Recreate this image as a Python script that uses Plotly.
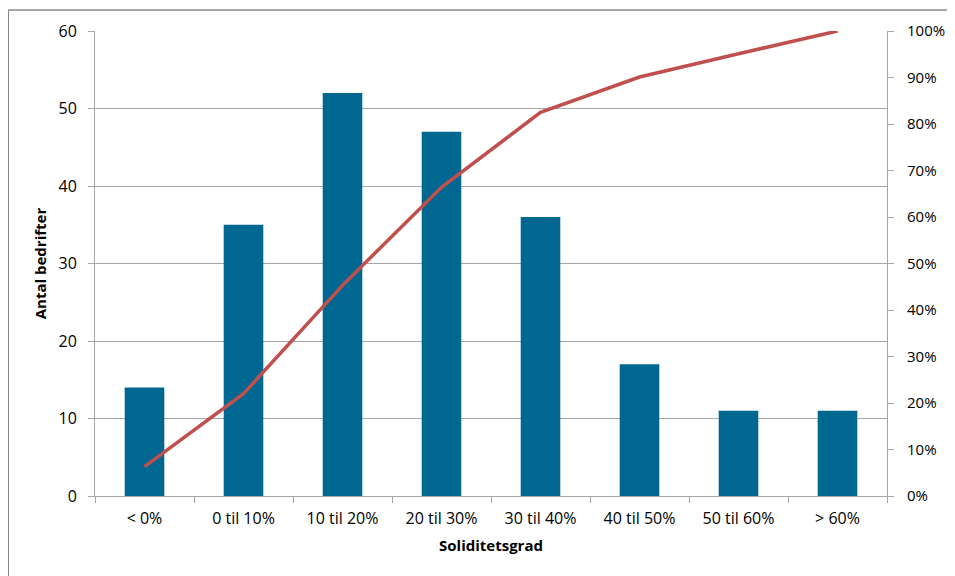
import plotly.graph_objects as go

categories = ["< 0%", "0 til 10%", "10 til 20%", "20 til 30%", "30 til 40%", "40 til 50%", "50 til 60%", "> 60%"]
counts = [14, 35, 52, 47, 36, 17, 11, 11]
cumulative = [0.063, 0.220, 0.453, 0.664, 0.825, 0.901, 0.951, 1.0]

left_ticks = [0, 10, 20, 30, 40, 50, 60]
right_ticks = [0, 0.1, 0.2, 0.3, 0.4, 0.5, 0.6, 0.7, 0.8, 0.9, 1.0]

font_family = "Open Sans, Liberation Sans, sans-serif"
grid = "#A6A6A6"

fig = go.Figure()
fig.add_trace(go.Bar(x=categories, y=counts, marker=dict(color="#006890", line=dict(width=0)),
                     width=0.4, yaxis="y", showlegend=False))
fig.add_trace(go.Scatter(x=categories, y=cumulative, mode="lines", yaxis="y2",
                         line=dict(color="#C0504D", width=3.5), showlegend=False))

fig.update_layout(
    width=947, height=568,
    margin=dict(l=87, r=68, t=23, b=80, autoexpand=False),
    paper_bgcolor="white", plot_bgcolor="white",
    font=dict(family=font_family, size=16, color="black"),
    xaxis=dict(type="category", showgrid=False, showline=True, linecolor=grid, linewidth=1,
               ticks="outside", tickson="boundaries", ticklen=6, tickcolor=grid,
               ticklabelstandoff=8, automargin=False,
               title=dict(text="<b>Soliditetsgrad</b>", font=dict(size=15), standoff=12)),
    yaxis=dict(range=[0, 60], tickvals=left_ticks, showgrid=True, gridcolor=grid, gridwidth=1,
               showline=True, linecolor=grid, ticks="outside", ticklen=6, tickcolor=grid,
               zeroline=False, ticklabelstandoff=8, automargin=False,
               title=dict(text="<b>Antal bedrifter</b>", font=dict(size=15), standoff=8)),
    yaxis2=dict(range=[0, 1], tickvals=right_ticks, tickformat=".0%", overlaying="y", side="right",
                showgrid=False, showline=True, linecolor=grid, ticks="outside", ticklen=6,
                tickcolor=grid, zeroline=False, ticklabelstandoff=10, automargin=False,
                tickfont=dict(size=15)),
)

x_left = -0.1095
y_top = 1.045
fig.add_shape(type="line", xref="paper", yref="paper", x0=x_left, x1=x_left, y0=-0.5, y1=y_top,
              line=dict(color="#888888", width=1.5), layer="below")
fig.add_shape(type="line", xref="paper", yref="paper", x0=x_left, x1=1.5, y0=y_top, y1=y_top,
              line=dict(color="#888888", width=1.5), layer="below")

fig.write_html("out.html")
